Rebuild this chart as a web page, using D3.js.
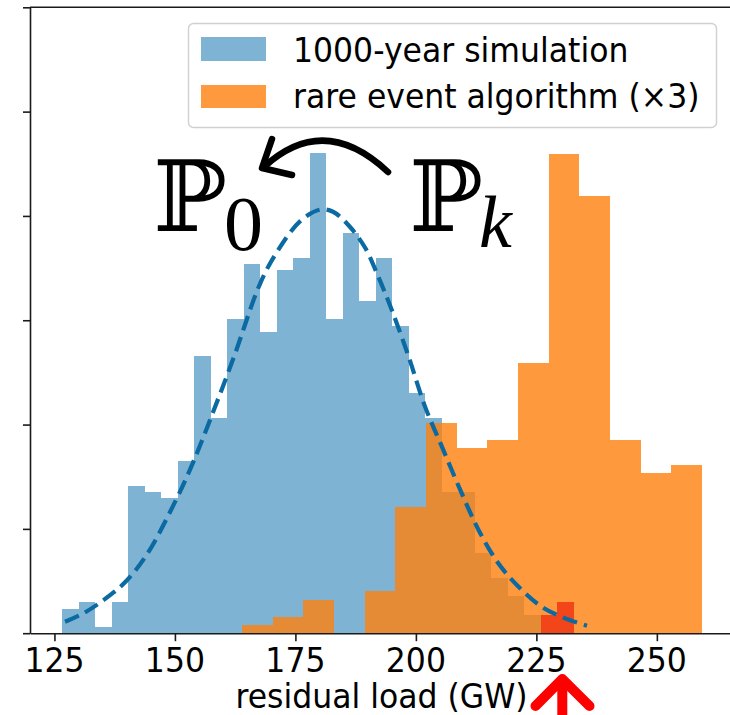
<!DOCTYPE html>
<html>
<head>
<meta charset="utf-8">
<script src="https://cdn.jsdelivr.net/npm/d3@7"></script>
<style>
  html, body { margin: 0; padding: 0; background: #ffffff; overflow: hidden; }
  svg { display: block; }
  text { font-family: "DejaVu Sans", sans-serif; fill: #000; }
</style>
</head>
<body>
<svg id="chart" width="730" height="715"></svg>
<script>
// 1000-year simulation: counts per bin of annual residual load
const simStart = 126.59;
const simBinWidth = 3.4252;
const simCounts = [4, 5, 1, 5, 24, 23, 22, 28, 45, 35, 51, 60, 49, 59, 61, 78,
                   51, 65, 54, 61, 50, 39, 35, 23, 23, 13, 9, 6, 3, 3, 5];

// rare event algorithm (×3): density per bin
const rareStart = 163.94;
const rareBinWidth = 6.359;
const rareDensity = [0.00039, 0.00079, 0.00159, 0, 0.00202, 0.00606, 0.01009, 0.00886,
                     0.00926, 0.01294, 0.02297, 0.02095, 0.00926, 0.00766, 0.00806];

// simulation bins at or above this load are highlighted
const tailFrom = 225;

// fitted normal density of the simulation, sampled along the load axis
const fitLoad = [127.2, 131.0, 135.2, 139.7, 144.2, 150.0, 153.8, 158.0, 162.1, 167.7,
                 171.1, 176.0, 180.1, 182.8, 186.3, 189.5, 192.2, 195.0, 198.5, 201.9,
                 205.4, 209.5, 213.0, 217.1, 221.3, 226.1, 231.0, 235.5];
const fitDensity = [0.00055, 0.00095, 0.00159, 0.00245, 0.00378, 0.00628, 0.00820, 0.01065,
                    0.01315, 0.01677, 0.01825, 0.01975, 0.02030, 0.02020, 0.01948, 0.01846,
                    0.01709, 0.01549, 0.01325, 0.01086, 0.00894, 0.00671, 0.00495, 0.00335,
                    0.00223, 0.00127, 0.00071, 0.00036];

const xTicks = [125, 150, 175, 200, 225, 250];
const yTicks = [0, 0.005, 0.01, 0.015, 0.02, 0.025, 0.03];
const legendLabels = ["1000-year simulation", "rare event algorithm (×3)"];
const xLabel = "residual load (GW)";

const blue = "#7fb3d3";
const orange = "#ff7f0e";
const fitColor = "#0a6aa1";
const spine = "#1a1a1a";
const labelSize = 31.5;
const stretch = 1.07;

const svg = d3.select("#chart");

const x = d3.scaleLinear().domain([119.93, 265.8]).range([30, 733]);
const y = d3.scaleLinear().domain([0, 0.03]).range([633.2, 7.3]);

// histogram bins
const simTotal = d3.sum(simCounts);
const simBins = simCounts.map((c, i) => ({
  x0: simStart + i * simBinWidth,
  x1: simStart + (i + 1) * simBinWidth,
  d: c / (simTotal * simBinWidth)
}));
const rareBins = rareDensity.map((v, i) => ({
  x0: rareStart + i * rareBinWidth,
  x1: rareStart + (i + 1) * rareBinWidth,
  d: v
}));

const plot = svg.append("g");

function bars(g, data) {
  return g.selectAll("rect").data(data.filter(b => b.d > 0)).join("rect")
    .attr("x", b => x(b.x0))
    .attr("width", b => x(b.x1) - x(b.x0))
    .attr("y", b => y(b.d))
    .attr("height", b => y(0) - y(b.d))
    .attr("shape-rendering", "crispEdges");
}

bars(plot.append("g"), simBins).attr("fill", blue);
bars(plot.append("g"), rareBins).attr("fill", orange).attr("fill-opacity", 0.8);
bars(plot.append("g"), simBins.filter(b => b.x0 >= tailFrom))
  .attr("fill", "#ff0000").attr("fill-opacity", 0.5);

// fitted density, dashed
plot.append("path")
  .datum(fitLoad.map((v, i) => [v, fitDensity[i]]))
  .attr("fill", "none")
  .attr("stroke", fitColor)
  .attr("stroke-width", 4.2)
  .attr("stroke-dasharray", "15,7")
  .attr("d", d3.line().x(p => x(p[0])).y(p => y(p[1])).curve(d3.curveCatmullRom));

// axes
const yAxis = svg.append("g").attr("transform", "translate(30,0)")
  .call(d3.axisLeft(y).tickValues(yTicks).tickFormat("").tickSizeInner(7).tickSizeOuter(0));
const xAxis = svg.append("g").attr("transform", `translate(0,${y(0)})`)
  .call(d3.axisBottom(x).tickValues(xTicks).tickFormat("").tickSizeInner(8).tickSizeOuter(0));
[yAxis, xAxis].forEach(a => {
  a.selectAll("path, line").attr("stroke", spine).attr("stroke-width", 1.6);
});
svg.append("line")
  .attr("x1", 30).attr("x2", 733)
  .attr("y1", y(0.03)).attr("y2", y(0.03))
  .attr("stroke", spine).attr("stroke-width", 1.6);

svg.append("g").selectAll("text").data(xTicks).join("text")
  .attr("transform", d => `translate(${x(d)},672) scale(1,${stretch})`)
  .attr("text-anchor", "middle")
  .attr("font-size", labelSize)
  .text(d => d);

svg.append("text")
  .attr("transform", `translate(381.5,708) scale(1,${stretch})`)
  .attr("text-anchor", "middle")
  .attr("font-size", labelSize)
  .text(xLabel);

// legend
const legend = svg.append("g");
legend.append("rect")
  .attr("x", 188.5).attr("y", 23.5).attr("width", 528).attr("height", 104)
  .attr("rx", 5).attr("fill", "#fff").attr("fill-opacity", 0.8)
  .attr("stroke", "#d0d0d0").attr("stroke-width", 1.4);
legend.append("rect").attr("x", 201).attr("y", 37).attr("width", 65).attr("height", 24)
  .attr("fill", blue);
legend.append("rect").attr("x", 201).attr("y", 85).attr("width", 65).attr("height", 23)
  .attr("fill", orange).attr("fill-opacity", 0.8);
legend.selectAll("text.lab").data(legendLabels).join("text")
  .attr("class", "lab")
  .attr("transform", (d, i) => `translate(293,${61.5 + i * 46}) scale(1,${stretch})`)
  .attr("font-size", labelSize)
  .text(d => d);

// measure symbols
const sym = svg.append("g");
sym.append("text").attr("x", 153).attr("y", 231)
  .style("font-family", "'DejaVu Serif', 'DejaVu Sans', serif")
  .attr("font-size", 98).text("ℙ");
sym.append("text").attr("x", 224).attr("y", 250)
  .style("font-family", "'Liberation Serif', serif")
  .attr("font-size", 78).text("0");
sym.append("text").attr("x", 409).attr("y", 231)
  .style("font-family", "'DejaVu Serif', 'DejaVu Sans', serif")
  .attr("font-size", 98).text("ℙ");
sym.append("text").attr("x", 479).attr("y", 247)
  .style("font-family", "'Liberation Serif', serif")
  .style("font-style", "italic")
  .attr("font-size", 74).text("k");

// curved arrow from ℙk back to ℙ0
const arrow = svg.append("g").attr("fill", "none").attr("stroke", "#000")
  .attr("stroke-width", 6.5).attr("stroke-linecap", "round").attr("stroke-linejoin", "round");
arrow.append("path").attr("d", "M388,172 Q324,112 264,167");
arrow.append("path").attr("d", "M272,139 L262,168 L292,175");

// red marker under the axis
const marker = svg.append("g").attr("fill", "none").attr("stroke", "#ff0000")
  .attr("stroke-width", 10).attr("stroke-linecap", "round").attr("stroke-linejoin", "round");
marker.append("path").attr("d", "M562.3,725 L562.3,680");
marker.append("path").attr("d", "M535.5,706 L562.3,679 L589.5,706");
</script>
</body>
</html>
